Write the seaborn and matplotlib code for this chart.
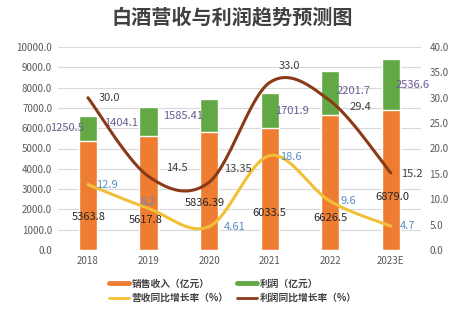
import numpy as np
import pandas as pd
import matplotlib
matplotlib.use("Agg")
import matplotlib.pyplot as plt
from matplotlib.lines import Line2D
import seaborn as sns

years = ["2018", "2019", "2020", "2021", "2022", "2023E"]
revenue = [5363.8, 5617.8, 5836.39, 6033.5, 6626.5, 6879.0]
profit = [1250.5, 1404.1, 1585.41, 1701.9, 2201.7, 2536.6]
rev_growth = [12.9, 8.2, 4.61, 18.6, 9.6, 4.7]
prof_growth = [30.0, 14.5, 13.35, 33.0, 29.4, 15.2]
revenue_labels = ["5363.8", "5617.8", "5836.39", "6033.5", "6626.5", "6879.0"]
profit_labels = ["1250.5", "1404.1", "1585.41", "1701.9", "2201.7", "2536.6"]
rev_growth_labels = ["12.9", "8.2", "4.61", "18.6", "9.6", "4.7"]
prof_growth_labels = ["30.0", "14.5", "13.35", "33.0", "29.4", "15.2"]
legend_names = ["销售收入（亿元）", "利润（亿元）", "营收同比增长率（%）", "利润同比增长率（%）"]
title = "白酒营收与利润趋势预测图"

sns.set_theme(style="white")
plt.rcParams['font.family'] = ['Noto Sans CJK SC', 'DejaVu Sans']

C_ORANGE = "#ee7d32"
C_GREEN = "#62a844"
C_YELLOW = "#f2c037"
C_BROWN = "#8a3a17"

df = pd.DataFrame({"year": years, "revenue": revenue, "profit": profit,
                   "total": np.array(revenue) + np.array(profit)})

fig = plt.figure(figsize=(4.71, 3.26), dpi=100)
ax = fig.add_axes([57.7 / 471, 1 - 250 / 326, (421 - 57.7) / 471, (250 - 47) / 326])

sns.barplot(data=df, x="year", y="total", color=C_GREEN, width=0.3, ax=ax,
            saturation=1, zorder=2)
sns.barplot(data=df, x="year", y="revenue", color=C_ORANGE, width=0.3, ax=ax,
            saturation=1, zorder=2)

ax.set_ylim(0, 10000)
ax.set_xlim(-0.5, len(years) - 0.5)
ax.set_yticks(np.arange(0, 10001, 1000))
ax.set_yticklabels([f"{v:.1f}" for v in np.arange(0, 10001, 1000)])
ax.yaxis.grid(True, color="#d9d9d9", linewidth=0.8, zorder=0)
ax.set_axisbelow(True)
for s in ax.spines.values():
    s.set_visible(False)
ax.set_xlabel("")
ax.set_ylabel("")
ax.tick_params(axis="both", length=0, labelsize=7, labelcolor="#595959", pad=4)

ax2 = ax.twinx()
ax2.set_ylim(0, 40)
ax2.set_yticks(np.arange(0, 41, 5))
ax2.set_yticklabels([f"{v:.1f}" for v in np.arange(0, 41, 5)])
for s in ax2.spines.values():
    s.set_visible(False)
ax2.tick_params(axis="y", length=0, labelsize=7, labelcolor="#595959", pad=6)
ax2.grid(False)


def smooth(vals, n=40):
    p = np.asarray(vals, dtype=float)
    xs, ys = [], []
    m = len(p)
    for i in range(m - 1):
        p0 = p[i - 1] if i > 0 else p[i]
        p1, p2 = p[i], p[i + 1]
        p3 = p[i + 2] if i + 2 < m else p[i + 1]
        x0 = i - 1 if i > 0 else i
        x3 = i + 2 if i + 2 < m else i + 1
        b1y = p1 + (p2 - p0) / 6
        b2y = p2 - (p3 - p1) / 6
        b1x = i + (i + 1 - x0) / 6
        b2x = i + 1 - (x3 - i) / 6
        t = np.linspace(0, 1, n)
        bx = (1 - t) ** 3 * i + 3 * (1 - t) ** 2 * t * b1x + 3 * (1 - t) * t ** 2 * b2x + t ** 3 * (i + 1)
        by = (1 - t) ** 3 * p1 + 3 * (1 - t) ** 2 * t * b1y + 3 * (1 - t) * t ** 2 * b2y + t ** 3 * p2
        xs.extend(bx)
        ys.extend(by)
    return np.array(xs), np.array(ys)


for vals, col in [(rev_growth, C_YELLOW), (prof_growth, C_BROWN)]:
    sx, sy = smooth(vals)
    sns.lineplot(x=sx, y=sy, ax=ax2, color=col, linewidth=2.2, sort=False,
                 estimator=None, zorder=3)

# data labels
rev_off = [(1, -21), (-3, -27), (-4, -12), (0, -24), (0, -35), (2, -17)]
prof_off = [(-21, 0), (-27, -1), (-26, -1), (22, -1), (23, 2), (22, 0)]
rg_off = [(19, 0), (0, 6), (26, 0), (21, -1), (18, 0), (17, 0)]
pg_off = [(21, 0), (28, 8), (29, 13), (20, 17), (30, -6), (21, -1)]

fs = 8
for i in range(len(years)):
    ax.annotate(revenue_labels[i], (i, revenue[i] / 2), xytext=rev_off[i],
                textcoords="offset pixels", ha="center", va="center",
                fontsize=fs, color="#262626", zorder=5)
    ax.annotate(profit_labels[i], (i, revenue[i] + profit[i] / 2), xytext=prof_off[i],
                textcoords="offset pixels", ha="center", va="center",
                fontsize=fs, color="#6b5a92", zorder=5)
    ax2.annotate(rev_growth_labels[i], (i, rev_growth[i]), xytext=rg_off[i],
                 textcoords="offset pixels", ha="center", va="center",
                 fontsize=fs, color="#5a8cc4", zorder=5)
    ax2.annotate(prof_growth_labels[i], (i, prof_growth[i]), xytext=pg_off[i],
                 textcoords="offset pixels", ha="center", va="center",
                 fontsize=fs, color="#404040", zorder=5)

fig.text(232 / 471, 1 - 17 / 326, title, ha="center", va="center",
         fontsize=14.5, fontweight="bold", color="#404040")

h_orange = Line2D([0], [0], color=C_ORANGE, lw=3.5)
h_green = Line2D([0], [0], color=C_GREEN, lw=3.5)
h_yellow = Line2D([0], [0], color=C_YELLOW, lw=2)
h_brown = Line2D([0], [0], color=C_BROWN, lw=2)
# matplotlib fills legend columns first; order so rows read orange/green, yellow/brown
leg = fig.legend([h_orange, h_yellow, h_green, h_brown],
                 [legend_names[0], legend_names[2], legend_names[1], legend_names[3]],
                 ncol=2, loc="center",
                 bbox_to_anchor=(233 / 471, 1 - 291 / 326), frameon=False,
                 fontsize=7, handlelength=2.0, handletextpad=0.3,
                 columnspacing=0.9, labelspacing=0.45)
for t in leg.get_texts():
    t.set_color("#404040")
    t.set_fontweight("bold")

fig.savefig("out.png", dpi=100)
